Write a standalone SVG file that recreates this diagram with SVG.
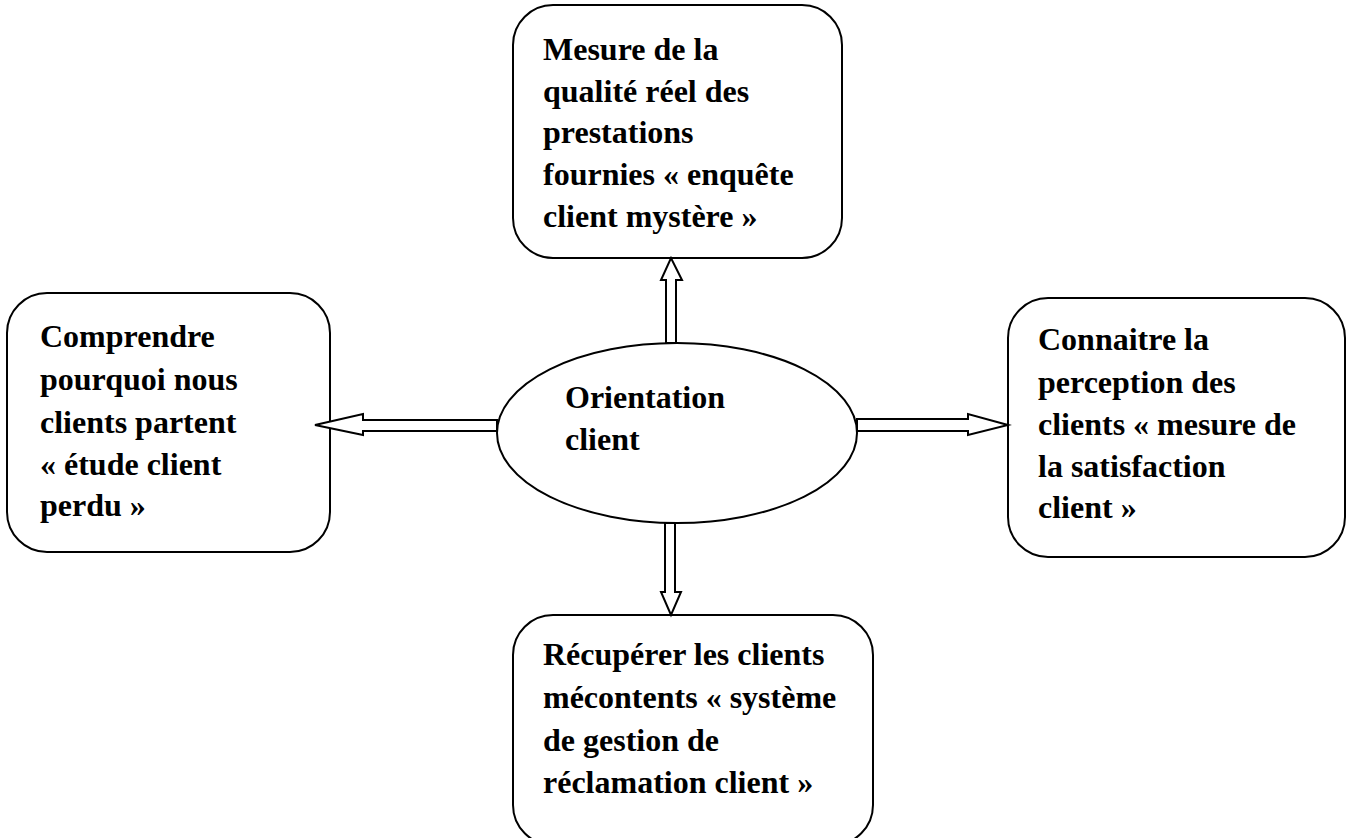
<svg xmlns="http://www.w3.org/2000/svg" width="1348" height="838" viewBox="0 0 1348 838">
  <style>
    .box { fill: #ffffff; stroke: #000000; stroke-width: 2; }
    .lbl { font-family: "Liberation Serif", "Times New Roman", serif; font-weight: bold; font-size: 32px; fill: #000000; }
    .arrow { fill: #ffffff; stroke: #000000; stroke-width: 2; stroke-linejoin: miter; }
  </style>
  <rect x="0" y="0" width="1348" height="838" fill="#ffffff"/>

  <g id="center">
    <ellipse class="box" cx="677" cy="433" rx="180" ry="90"/>
    <text class="lbl" x="565" y="408">Orientation</text>
    <text class="lbl" x="565" y="450">client</text>
  </g>

  <g id="top">
    <rect class="box" x="513" y="5" width="329" height="253" rx="40" ry="40"/>
    <text class="lbl" x="543" y="60">Mesure de la</text>
    <text class="lbl" x="543" y="102">qualité réel des</text>
    <text class="lbl" x="543" y="143">prestations</text>
    <text class="lbl" x="543" y="185">fournies « enquête</text>
    <text class="lbl" x="543" y="227">client mystère »</text>
  </g>

  <g id="left">
    <rect class="box" x="7" y="293" width="323" height="259" rx="40" ry="40"/>
    <text class="lbl" x="40" y="347">Comprendre</text>
    <text class="lbl" x="40" y="390">pourquoi nous</text>
    <text class="lbl" x="40" y="433">clients partent</text>
    <text class="lbl" x="40" y="475">« étude client</text>
    <text class="lbl" x="40" y="516">perdu »</text>
  </g>

  <g id="right">
    <rect class="box" x="1008" y="298" width="337" height="259" rx="40" ry="40"/>
    <text class="lbl" x="1038" y="350">Connaitre la</text>
    <text class="lbl" x="1038" y="393">perception des</text>
    <text class="lbl" x="1038" y="435">clients « mesure de</text>
    <text class="lbl" x="1038" y="477">la satisfaction</text>
    <text class="lbl" x="1038" y="518">client »</text>
  </g>

  <g id="bottom">
    <rect class="box" x="513" y="615" width="360" height="230" rx="40" ry="40"/>
    <text class="lbl" x="543" y="665">Récupérer les clients</text>
    <text class="lbl" x="543" y="708">mécontents « système</text>
    <text class="lbl" x="543" y="751">de gestion de</text>
    <text class="lbl" x="543" y="793">réclamation client »</text>
  </g>

  <!-- block arrows from the centre outwards, drawn over the box outlines -->
  <g id="connectors">
    <!-- up -->
    <polygon class="arrow" points="666,343 666,280 661,280 671,258 682,280 676,280 676,343"/>
    <!-- down -->
    <polygon class="arrow" points="665,523 665,592 661,592 671,615 681,592 675,592 675,523"/>
    <!-- left -->
    <polygon class="arrow" points="497,420 363,420 363,414 315,425 363,435 363,431 497,431"/>
    <!-- right -->
    <polygon class="arrow" points="857,419 968,419 968,414 1008,425 968,435 968,431 857,431"/>
  </g>
</svg>
